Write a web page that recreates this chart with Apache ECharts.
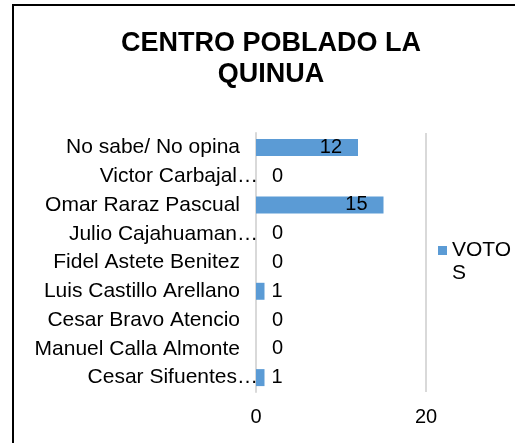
<!DOCTYPE html>
<html>
	<head>
		<meta charset="UTF-8">
		<title>CENTRO POBLADO LA QUINUA</title>
		<script src="https://cdn.jsdelivr.net/npm/echarts@6/dist/echarts.min.js"></script>
	</head>
	<body style="margin:0">
		<div id="main" style="width:515px;height:443px;"></div>
		<script type="text/javascript">
			// categories top to bottom as in the picture
			var candidatos = ['No sabe/ No opina', 'Victor Carbajal\u2026', 'Omar Raraz Pascual', 'Julio Cajahuaman\u2026',
				'Fidel Astete Benitez', 'Luis Castillo Arellano', 'Cesar Bravo Atencio', 'Manuel Calla Almonte', 'Cesar Sifuentes\u2026'];
			var votos = [12, 0, 15, 0, 0, 1, 0, 0, 1];
			var ejeX = [0, 20];

			var fuente = '"Liberation Sans", Arial, sans-serif';

			var datos = [];
			for (var i = 0; i < votos.length; i++) {
				var v = votos[i];
				var grande = v > 5;
				datos.push({
					value: v,
					label: {
						position: grande ? 'insideRight' : 'right',
						distance: grande ? 16 : (v === 0 ? 16 : 7)
					}
				});
			}

			var option = {
				animation: false,
				title: {
					text: 'CENTRO POBLADO LA\nQUINUA',
					left: 266,
					top: 23,
					textAlign: 'center',
					textStyle: {
						fontFamily: fuente,
						fontWeight: 'bold',
						fontSize: 27,
						lineHeight: 31,
						color: '#000'
					}
				},
				legend: {
					left: 438,
					top: 216,
					padding: 0,
					icon: 'rect',
					itemWidth: 9,
					itemHeight: 9,
					itemGap: 4,
					// blank first line so the icon lines up with "VOTO"
					formatter: function (n) { return ' \nVOTO\nS'; },
					textStyle: {
						fontFamily: fuente,
						fontSize: 21,
						lineHeight: 23,
						color: '#000'
					},
					data: ['VOTOS']
				},
				grid: {
					left: 256,
					right: 89,
					top: 133,
					bottom: 51,
					containLabel: false
				},
				xAxis: {
					type: 'value',
					min: ejeX[0],
					max: ejeX[1],
					interval: 20,
					axisLine: { show: false },
					axisTick: { show: false },
					axisLabel: { fontFamily: fuente, fontSize: 20, color: '#000', margin: 15 },
					splitLine: { lineStyle: { color: '#d9d9d9', width: 2 } }
				},
				yAxis: {
					type: 'category',
					inverse: true,
					data: candidatos,
					axisLine: { lineStyle: { color: '#d9d9d9', width: 2 } },
					axisTick: { show: false },
					axisLabel: {
						fontFamily: fuente,
						fontSize: 21,
						color: '#000',
						margin: 16,
						formatter: function (s) {
							return s.charAt(s.length - 1) === '\u2026' ? '{t|' + s + '}' : s;
						},
						rich: {
							t: { fontFamily: fuente, fontSize: 21, color: '#000', padding: [0, -18, 0, 0] }
						}
					}
				},
				series: [{
					name: 'VOTOS',
					type: 'bar',
					barCategoryGap: '41%',
					itemStyle: { color: '#5b9bd5' },
					label: {
						show: true,
						fontFamily: fuente,
						fontSize: 20,
						color: '#000'
					},
					data: datos
				}],
				graphic: [{
					type: 'rect',
					shape: { x: 13, y: 5, width: 600, height: 600 },
					style: { fill: 'none', stroke: '#000', lineWidth: 2 },
					z: 100
				}]
			};

			echarts.init(document.getElementById('main')).setOption(option);
		</script>
	</body>
</html>
